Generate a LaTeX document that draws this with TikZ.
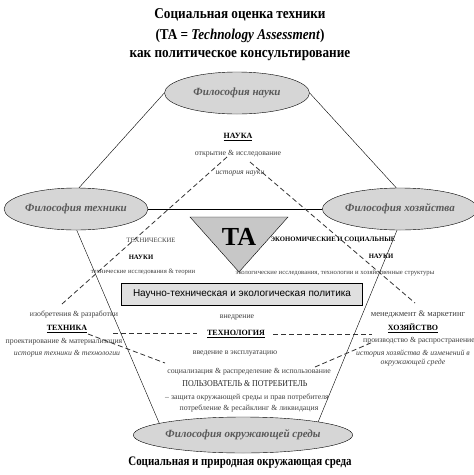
\documentclass[tikz,border=0pt]{standalone}
\usepackage{fontspec}
\setmainfont{Liberation Serif}
\setsansfont{Liberation Sans}
\usepackage{tikz}
\usetikzlibrary{shapes.geometric}

\begin{document}
\begin{tikzpicture}[
    x=1pt,y=-1pt,
    philo/.style={ellipse,draw,fill=black!16,inner sep=0pt,
      font=\fontsize{11}{13}\selectfont\itshape\bfseries,text=black!65},
    small/.style={font=\fontsize{7.8}{9}\selectfont,text=black!75},
    tiny/.style={font=\fontsize{6.7}{8}\selectfont,text=black!75},
    head/.style={font=\fontsize{8}{10}\selectfont\bfseries},
    caps/.style={font=\fontsize{6.7}{8}\selectfont\bfseries},
    titl/.style={font=\fontsize{15}{17}\selectfont\bfseries},
    dashline/.style={thick,dash pattern=on 5pt off 3pt,black!80}
    ]
  \useasboundingbox (0,0) rectangle (474,475);
  % title
  \node[titl] (t1) at (240,15) {\scalebox{0.88}[1]{Социальная оценка техники}};
  \node[titl] (t2) at (240,36) {\scalebox{0.88}[1]{(TA = \textit{Technology Assessment})}};
  \node[titl] (t3) at (240,56) {\scalebox{0.88}[1]{как политическое консультирование}};
  % philosophies
  \node[philo,minimum width=145,minimum height=42] (top) at (237,93) {Философия науки};
  \node[philo,minimum width=138,minimum height=42] (left) at (76,209) {Философия техники};
  \node[philo,minimum width=144,minimum height=42] (right) at (400,209) {Философия хозяйства};
  \node[philo,minimum width=140,minimum height=36] (bottom) at (243,435) {Философия окружающей среды};
  \draw (top.west) -- (left.82);
  \draw (top.east) -- (right.100);
  \draw (left.east) -- (right.west);
  \draw (left.272) -- (bottom.172);
  \draw (right.262) -- (bottom.10);
  % TA triangle and policy box
  \filldraw[fill=black!22] (190,217) -- (288,217) -- (239,272) -- cycle;
  \node[font=\fontsize{26}{28}\selectfont\bfseries] (ta) at (239,237) {TA};
  \node[draw,fill=black!12,minimum width=241,minimum height=22,inner sep=0pt,
    font=\sffamily\fontsize{10}{12}\selectfont] (policy) at (242,294) {Научно-техническая и экологическая политика};
  % science
  \node[head] (nauka) at (238,137) {\underline{НАУКА}};
  \node[small] (otkr) at (238,154) {открытие \& исследование};
  \node[small,font=\fontsize{7.8}{9}\selectfont\itshape] (istn) at (240,173) {история науки};
  \node[tiny] (tech1) at (151,240) {ТЕХНИЧЕСКИЕ};
  \node[caps] (tech2) at (141,257) {НАУКИ};
  \node[tiny] (tech3) at (143,272) {технические исследования \& теории};
  \node[caps] (econ1) at (333,240) {ЭКОНОМИЧЕСКИЕ И СОЦИАЛЬНЫЕ};
  \node[caps] (econ2) at (381,256) {НАУКИ};
  \node[tiny] (econ3) at (335,273) {экологические исследования, технологии и хозяйственные структуры};
  % technics
  \node[small] (izob) at (74,315) {изобретения \& разработки};
  \node[head] (tehn) at (67,329) {\underline{ТЕХНИКА}};
  \node[small] (proekt) at (64,342) {проектирование \& материализация};
  \node[small,font=\fontsize{7.8}{9}\selectfont\itshape] (istt) at (67,354) {история техники \& технологии};
  % technology
  \node[small] (vnedr) at (237,317) {внедрение};
  \node[head] (tehnol) at (236,334) {\underline{ТЕХНОЛОГИЯ}};
  \node[small] (vved) at (235,353) {введение в эксплуатацию};
  \node[small] (soc) at (249,372) {социализация \& распределение \& использование};
  \node[font=\fontsize{9}{11}\selectfont,text=black!85] (user) at (245,384) {\scalebox{0.88}[1]{ПОЛЬЗОВАТЕЛЬ \& ПОТРЕБИТЕЛЬ}};
  \node[small] (zash) at (247,398) {– защита окружающей среды и прав потребителя};
  \node[small] (potr) at (249,409) {потребление \& ресайклинг \& ликвидация};
  % economy
  \node[small,font=\fontsize{8.6}{10}\selectfont] (men) at (418,315) {менеджмент \& маркетинг};
  \node[head] (hoz) at (413,328) {\underline{ХОЗЯЙСТВО}};
  \node[small] (proizv) at (419,341) {производство \& распространение};
  \node[small,font=\fontsize{7.8}{8.5}\selectfont\itshape,align=center] (isth) at (413,358) {история хозяйства \& изменений в\\окружающей среде};
  % bottom caption
  \node[titl,font=\fontsize{13}{15}\selectfont\bfseries] (env) at (240,463) {\scalebox{0.84}[1]{Социальная и природная окружающая среда}};
  % dashed links
  \coordinate (d1) at (227,157);
  \coordinate (d2) at (62,304);
  \coordinate (d3) at (250,162);
  \coordinate (d4) at (415,303);
  \coordinate (d5) at (113,333);
  \coordinate (d6) at (197,333);
  \coordinate (d7) at (273,334);
  \coordinate (d8) at (372,334);
  \coordinate (d9) at (88,334);
  \coordinate (d10) at (165,363);
  \coordinate (d11) at (315,367);
  \coordinate (d12) at (373,342);
  \draw[dashline] (d1) -- (d2);
  \draw[dashline] (d3) -- (d4);
  \draw[dashline] (d5) -- (d6);
  \draw[dashline] (d7) -- (d8);
  \draw[dashline] (d9) -- (d10);
  \draw[dashline] (d11) -- (d12);
\end{tikzpicture}
\end{document}
